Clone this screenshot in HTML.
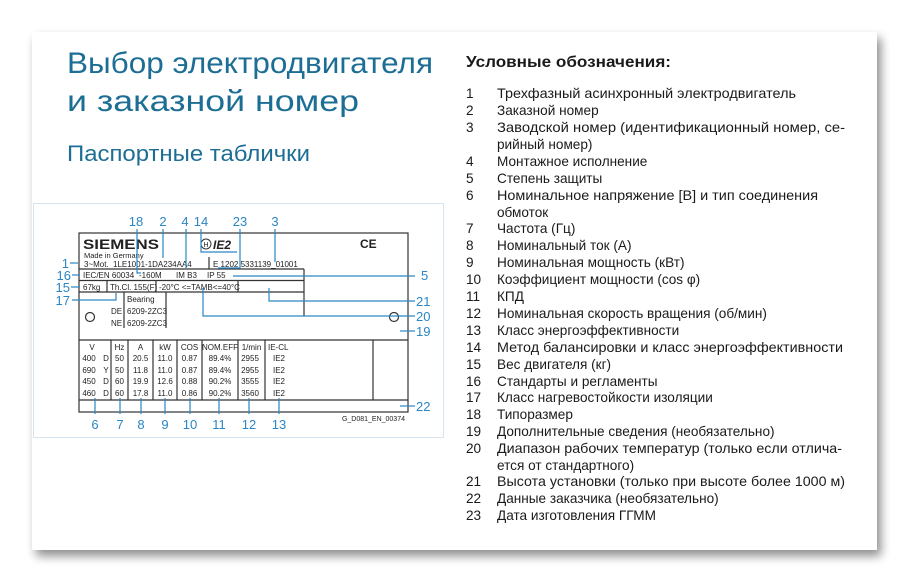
<!DOCTYPE html>
<html><head><meta charset="utf-8"><style>
html,body{margin:0;padding:0;background:#fff;}
svg{display:block;}
</style></head><body>
<svg width="909" height="582" viewBox="0 0 909 582" xmlns="http://www.w3.org/2000/svg">
<defs>
<filter id="sh" x="-5%" y="-5%" width="115%" height="120%">
<feGaussianBlur in="SourceAlpha" stdDeviation="5"/>
<feOffset dx="4" dy="6"/>
<feComponentTransfer><feFuncA type="linear" slope="0.45"/></feComponentTransfer>
<feMerge><feMergeNode/><feMergeNode in="SourceGraphic"/></feMerge>
</filter>
</defs>
<rect x="0" y="0" width="909" height="582" fill="#fff"/>
<rect x="32" y="32" width="845" height="518" fill="#fff" filter="url(#sh)"/>

<g font-family="Liberation Sans, DejaVu Sans, sans-serif" fill="#1d6e95">
<text x="67" y="73" font-size="30" textLength="366" lengthAdjust="spacingAndGlyphs">Выбор электродвигателя</text>
<text x="67" y="111" font-size="30" textLength="292" lengthAdjust="spacingAndGlyphs">и заказной номер</text>
<text x="67" y="161" font-size="22" textLength="243" lengthAdjust="spacingAndGlyphs">Паспортные таблички</text>
</g>

<g font-family="Liberation Sans, DejaVu Sans, sans-serif" fill="#1a1a1a">
<text x="466" y="67" font-size="16" font-weight="bold" textLength="205" lengthAdjust="spacingAndGlyphs">Условные обозначения:</text>
<g font-size="13.6">
<text x="466" y="98">1</text><text x="497" y="98" textLength="299" lengthAdjust="spacingAndGlyphs">Трехфазный асинхронный электродвигатель</text>
<text x="466" y="115">2</text><text x="497" y="115">Заказной номер</text>
<text x="466" y="132">3</text><text x="497" y="132" textLength="348" lengthAdjust="spacingAndGlyphs">Заводской номер (идентификационный номер, се-</text>
<text x="497" y="149">рийный номер)</text>
<text x="466" y="166">4</text><text x="497" y="166">Монтажное исполнение</text>
<text x="466" y="183">5</text><text x="497" y="183">Степень защиты</text>
<text x="466" y="200">6</text><text x="497" y="200" textLength="321" lengthAdjust="spacingAndGlyphs">Номинальное напряжение [B] и тип соединения</text>
<text x="497" y="217">обмоток</text>
<text x="466" y="233">7</text><text x="497" y="233">Частота (Гц)</text>
<text x="466" y="250">8</text><text x="497" y="250">Номинальный ток (A)</text>
<text x="466" y="267">9</text><text x="497" y="267">Номинальная мощность (кВт)</text>
<text x="466" y="284">10</text><text x="497" y="284">Коэффициент мощности (cos φ)</text>
<text x="466" y="301">11</text><text x="497" y="301">КПД</text>
<text x="466" y="318">12</text><text x="497" y="318">Номинальная скорость вращения (об/мин)</text>
<text x="466" y="335">13</text><text x="497" y="335">Класс энергоэффективности</text>
<text x="466" y="352">14</text><text x="497" y="352" textLength="346" lengthAdjust="spacingAndGlyphs">Метод балансировки и класс энергоэффективности</text>
<text x="466" y="369">15</text><text x="497" y="369">Вес двигателя (кг)</text>
<text x="466" y="386">16</text><text x="497" y="386">Стандарты и регламенты</text>
<text x="466" y="402">17</text><text x="497" y="402">Класс нагревостойкости изоляции</text>
<text x="466" y="419">18</text><text x="497" y="419">Типоразмер</text>
<text x="466" y="436">19</text><text x="497" y="436">Дополнительные сведения (необязательно)</text>
<text x="466" y="453">20</text><text x="497" y="453" textLength="345" lengthAdjust="spacingAndGlyphs">Диапазон рабочих температур (только если отлича-</text>
<text x="497" y="470">ется от стандартного)</text>
<text x="466" y="486">21</text><text x="497" y="486" textLength="348" lengthAdjust="spacingAndGlyphs">Высота установки (только при высоте более 1000 м)</text>
<text x="466" y="503">22</text><text x="497" y="503">Данные заказчика (необязательно)</text>
<text x="466" y="520">23</text><text x="497" y="520">Дата изготовления ГГММ</text>
</g>
</g>

<!-- plate frame -->
<rect x="33.5" y="203.5" width="410" height="234" fill="none" stroke="#d5e4ef" stroke-width="1"/>

<g stroke="#333" stroke-width="1.2" fill="none">
<rect x="79" y="233" width="329" height="179"/>
<line x1="79" y1="269" x2="304" y2="269"/>
<line x1="79" y1="280.5" x2="304" y2="280.5"/>
<line x1="79" y1="292" x2="304" y2="292"/>
<line x1="304" y1="269" x2="304" y2="316"/>
<line x1="209" y1="257" x2="209" y2="269"/>
<line x1="107" y1="280.5" x2="107" y2="292"/>
<line x1="156" y1="280.5" x2="156" y2="292"/>
<line x1="238" y1="280.5" x2="238" y2="292"/>
<line x1="124" y1="292" x2="124" y2="328"/>
<line x1="166" y1="292" x2="166" y2="328"/>
<line x1="79" y1="340" x2="408" y2="340"/>
<line x1="79" y1="400" x2="408" y2="400"/>
<line x1="111" y1="340" x2="111" y2="400"/>
<line x1="128" y1="340" x2="128" y2="400"/>
<line x1="153" y1="340" x2="153" y2="400"/>
<line x1="177" y1="340" x2="177" y2="400"/>
<line x1="202" y1="340" x2="202" y2="400"/>
<line x1="238" y1="340" x2="238" y2="400"/>
<line x1="265" y1="340" x2="265" y2="400"/>
<line x1="373" y1="340" x2="373" y2="400"/>
<circle cx="90" cy="317" r="4.5"/>
<circle cx="394" cy="317" r="4.5"/>
<circle cx="206" cy="244" r="5" stroke-width="1"/>
</g>

<g font-family="Liberation Sans, DejaVu Sans, sans-serif" fill="#222">
<text x="83" y="249" font-size="13.5" font-weight="bold" textLength="76" lengthAdjust="spacingAndGlyphs">SIEMENS</text>
<text x="84" y="258" font-size="7.5">Made in Germany</text>
<text x="84" y="267" font-size="8">3~Mot.</text>
<text x="113" y="267" font-size="8">1LE1001-1DA234AA4</text>
<text x="213" y="267" font-size="8">E 1202 5331139_01001</text>
<text x="83" y="278" font-size="8">IEC/EN 60034</text>
<text x="139" y="278" font-size="8">-160M</text>
<text x="176" y="278" font-size="8">IM B3</text>
<text x="207" y="278" font-size="8">IP 55</text>
<text x="83" y="290" font-size="8">67kg</text>
<text x="110" y="290" font-size="8">Th.Cl. 155(F)</text>
<text x="159" y="290" font-size="8">-20°C &lt;=TAMB&lt;=40°C</text>
<text x="127" y="302" font-size="8">Bearing</text>
<text x="111" y="314" font-size="8">DE</text><text x="127" y="314" font-size="8">6209-2ZC3</text>
<text x="111" y="326" font-size="8">NE</text><text x="127" y="326" font-size="8">6209-2ZC3</text>
<text x="203.5" y="247" font-size="7">H</text>
<text x="213" y="249" font-size="12" font-weight="bold" font-style="italic">IE2</text>
<text x="360" y="248" font-size="12" font-weight="bold">CE</text>
<g font-size="8">
<text x="92" y="350" text-anchor="middle">V</text>
<text x="119.5" y="350" text-anchor="middle">Hz</text>
<text x="140.5" y="350" text-anchor="middle">A</text>
<text x="165" y="350" text-anchor="middle">kW</text>
<text x="189.5" y="350" text-anchor="middle">COS</text>
<text x="220" y="350" text-anchor="middle">NOM.EFF</text>
<text x="251.5" y="350" text-anchor="middle">1/min</text>
<text x="268" y="350">IE-CL</text>
<g text-anchor="middle">
<text x="89" y="361">400</text><text x="89" y="373">690</text><text x="89" y="384">450</text><text x="89" y="396">460</text>
<text x="106" y="361">D</text><text x="106" y="373">Y</text><text x="106" y="384">D</text><text x="106" y="396">D</text>
<text x="119.5" y="361">50</text><text x="119.5" y="373">50</text><text x="119.5" y="384">60</text><text x="119.5" y="396">60</text>
<text x="140.5" y="361">20.5</text><text x="140.5" y="373">11.8</text><text x="140.5" y="384">19.9</text><text x="140.5" y="396">17.8</text>
<text x="165" y="361">11.0</text><text x="165" y="373">11.0</text><text x="165" y="384">12.6</text><text x="165" y="396">11.0</text>
<text x="189.5" y="361">0.87</text><text x="189.5" y="373">0.87</text><text x="189.5" y="384">0.88</text><text x="189.5" y="396">0.86</text>
<text x="220" y="361">89.4%</text><text x="220" y="373">89.4%</text><text x="220" y="384">90.2%</text><text x="220" y="396">90.2%</text>
<text x="250" y="361">2955</text><text x="250" y="373">2955</text><text x="250" y="384">3555</text><text x="250" y="396">3560</text>
<text x="279" y="361">IE2</text><text x="279" y="373">IE2</text><text x="279" y="384">IE2</text><text x="279" y="396">IE2</text>
</g>
</g>
<text x="405" y="421" font-size="7" text-anchor="end">G_D081_EN_00374</text>
</g>

<!-- leader lines -->
<g stroke="#2a86c4" stroke-width="1.2" fill="none">
<line x1="70" y1="263" x2="78" y2="263"/>
<line x1="72" y1="275" x2="80" y2="275"/>
<line x1="71" y1="287" x2="80" y2="287"/>
<polyline points="72,300 116,300 116,293"/>
<polyline points="137,229 137,273 141,273"/>
<line x1="163" y1="229" x2="163" y2="258"/>
<line x1="186" y1="229" x2="186" y2="268"/>
<polyline points="201,229 201,252 237,252"/>
<polyline points="240,229 240,268 218,268"/>
<line x1="275" y1="229" x2="275" y2="262"/>
<line x1="233" y1="276" x2="415" y2="276"/>
<polyline points="269,288 269,301 415,301"/>
<polyline points="203,288 203,316 415,316"/>
<line x1="400" y1="331" x2="415" y2="331"/>
<line x1="400" y1="406" x2="415" y2="406"/>
<line x1="95" y1="398" x2="95" y2="414"/>
<line x1="120" y1="398" x2="120" y2="414"/>
<line x1="141" y1="398" x2="141" y2="414"/>
<line x1="165" y1="398" x2="165" y2="414"/>
<line x1="190" y1="398" x2="190" y2="414"/>
<line x1="219" y1="398" x2="219" y2="414"/>
<line x1="249" y1="398" x2="249" y2="414"/>
<line x1="279" y1="398" x2="279" y2="414"/>
</g>
<g font-family="Liberation Sans, DejaVu Sans, sans-serif" font-size="13" fill="#2a86c4">
<g text-anchor="middle">
<text x="136" y="226">18</text><text x="163" y="226">2</text><text x="185" y="226">4</text><text x="201" y="226">14</text><text x="240" y="226">23</text><text x="275" y="226">3</text>
<text x="95" y="429">6</text><text x="120" y="429">7</text><text x="141" y="429">8</text><text x="165" y="429">9</text><text x="190" y="429">10</text><text x="219" y="429">11</text><text x="249" y="429">12</text><text x="279" y="429">13</text>
</g>
<g text-anchor="end">
<text x="69" y="268">1</text><text x="71" y="280">16</text><text x="70" y="292">15</text><text x="70" y="305">17</text>
</g>
<text x="421" y="280">5</text>
<text x="416" y="306">21</text>
<text x="416" y="321">20</text>
<text x="416" y="336">19</text>
<text x="416" y="411">22</text>
</g>
</svg>
</body></html>
